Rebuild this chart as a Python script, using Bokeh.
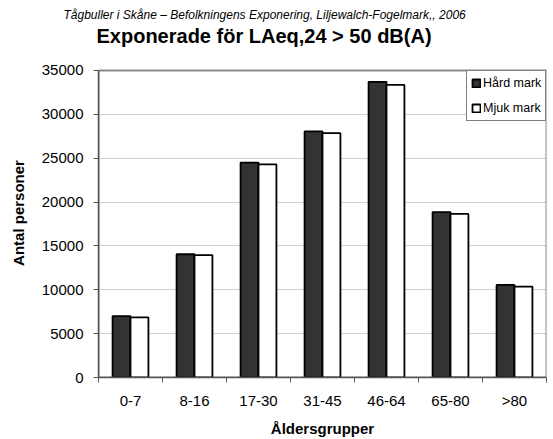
import numpy as np
from bokeh.plotting import figure
from bokeh.models import (Range1d, FixedTicker, Title, Legend, LegendItem,
                          ColumnDataSource, BasicTickFormatter)
from bokeh.transform import dodge
from bokeh.embed import file_html
from bokeh.resources import INLINE

# Age groups and exposed population per ground type
categories = ["0-7", "8-16", "17-30", "31-45", "46-64", "65-80", ">80"]
hard = [7000, 14050, 24500, 28050, 33700, 18850, 10550]
soft = [6850, 13950, 24300, 27850, 33350, 18650, 10350]
series_names = ["Hård mark", "Mjuk mark"]
y_max = 35000
y_ticks = list(range(0, y_max + 1, 5000))
title_text = "Exponerade för LAeq,24 > 50 dB(A)"
subtitle_text = "Tågbuller i Skåne – Befolkningens Exponering, Liljewalch-Fogelmark,, 2006"

FONT = "Liberation Sans"
W, H = 553, 439
LEFT, RIGHT, TOP, BOTTOM = 98, 7, 48, 61
FRAME_H = H - TOP - BOTTOM
GAP_PX = 22                   # empty band between frame top and the value-axis maximum
y_end = y_max * FRAME_H / (FRAME_H - GAP_PX)

centers = np.arange(len(categories)) + 0.5
bar_w = 0.28
src = ColumnDataSource(dict(x=centers, hard=hard, soft=soft))

p = figure(width=W, height=H, output_backend="svg", toolbar_location=None,
           x_range=Range1d(0, len(categories)), y_range=Range1d(0, y_end),
           min_border_left=LEFT, min_border_right=RIGHT, min_border_top=TOP,
           min_border_bottom=BOTTOM, title=None)
p.background_fill_color = "white"
p.border_fill_color = "white"
p.outline_line_color = None

# plot-area box (grey border at top and right)
p.quad(left=0, right=len(categories), bottom=0, top=y_max, fill_color=None,
       line_color="#8a8a8a", line_width=2)

r1 = p.vbar(x=dodge("x", -bar_w / 2), top="hard", width=bar_w, source=src,
            fill_color="#333333", line_color="black", line_width=1.8)
r2 = p.vbar(x=dodge("x", bar_w / 2), top="soft", width=bar_w, source=src,
            fill_color="white", line_color="black", line_width=1.8)

# x axis: labels centred on groups, ticks between groups
xa = p.xaxis[0]
xa.ticker = FixedTicker(ticks=list(centers), minor_ticks=list(range(len(categories) + 1)))
xa.major_label_overrides = {float(c): lab for c, lab in zip(centers, categories)}
xa.major_tick_out = 0
xa.major_tick_in = 0
xa.minor_tick_out = 5
xa.minor_tick_in = 0
xa.minor_tick_line_color = "#555555"
xa.axis_line_color = "#555555"
xa.axis_line_width = 1.5
xa.major_label_text_font = FONT
xa.major_label_text_font_size = "15px"
xa.major_label_text_color = "black"
xa.major_label_standoff = 9
xa.axis_label = "Åldersgrupper"
xa.axis_label_text_font = FONT
xa.axis_label_text_font_size = "15px"
xa.axis_label_text_font_style = "bold"
xa.axis_label_text_color = "black"
xa.axis_label_standoff = 8

ya = p.yaxis[0]
ya.ticker = FixedTicker(ticks=y_ticks)
ya.bounds = (0, y_max)
ya.formatter = BasicTickFormatter(use_scientific=False)
ya.major_tick_out = 5
ya.major_tick_in = 0
ya.minor_tick_line_color = None
ya.major_tick_line_color = "#555555"
ya.axis_line_color = "#555555"
ya.axis_line_width = 1.5
ya.major_label_text_font = FONT
ya.major_label_text_font_size = "15px"
ya.major_label_text_color = "black"
ya.major_label_standoff = 10
ya.axis_label = "Antal personer"
ya.axis_label_text_font = FONT
ya.axis_label_text_font_size = "15px"
ya.axis_label_text_font_style = "bold"
ya.axis_label_text_color = "black"
ya.axis_label_standoff = 12

p.xgrid.grid_line_color = None
p.ygrid.grid_line_color = "#cfcfcf"
p.ygrid.grid_line_width = 1
p.ygrid.bounds = (0, y_max)

legend = Legend(items=[LegendItem(label=series_names[0], renderers=[r1]),
                       LegendItem(label=series_names[1], renderers=[r2])],
                location=(368, 256), orientation="vertical")
legend.label_text_font = FONT
legend.label_text_font_size = "12.5px"
legend.label_text_color = "black"
legend.glyph_width = 10
legend.glyph_height = 10
legend.label_height = 16
legend.label_standoff = 2
legend.spacing = 9
legend.padding = 4
legend.margin = 0
legend.border_line_color = "black"
legend.border_line_width = 1
legend.background_fill_color = "white"
legend.background_fill_alpha = 1
p.add_layout(legend)

# headings: main title next to the frame, source line above it
main = Title(text=title_text, align="left", offset=-2,
             text_font=FONT, text_font_size="20px", text_font_style="bold",
             text_color="black", standoff=3)
sub = Title(text=subtitle_text, align="left", offset=-35,
            text_font=FONT, text_font_size="12px", text_font_style="italic",
            text_color="black", standoff=0)
p.add_layout(main, "above")
p.add_layout(sub, "above")

open("out.html", "w").write(file_html(p, INLINE))
